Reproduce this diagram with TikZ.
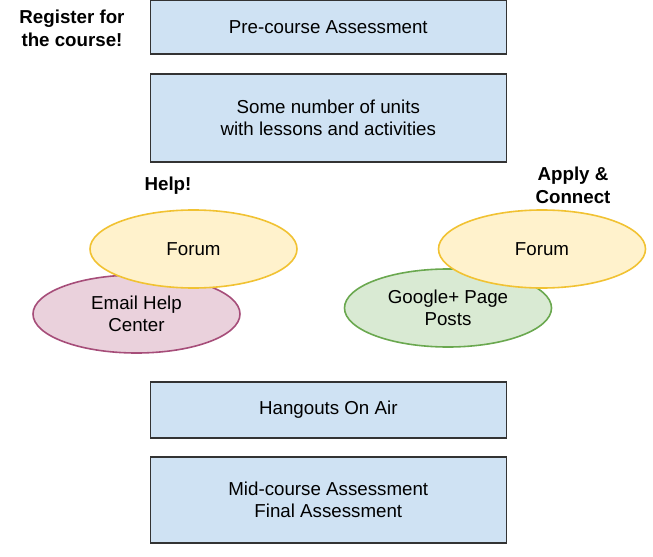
\documentclass[tikz,border=0pt]{standalone}
\usepackage{fontspec}
\setmainfont{Liberation Sans}
\usetikzlibrary{shapes.geometric}
\definecolor{boxfill}{HTML}{CFE2F3}
\definecolor{boxline}{HTML}{333333}
\definecolor{forumfill}{HTML}{FFF2CC}
\definecolor{forumline}{HTML}{F1C232}
\definecolor{mailfill}{HTML}{EAD1DC}
\definecolor{mailline}{HTML}{A64D79}
\definecolor{gfill}{HTML}{D9EAD3}
\definecolor{gline}{HTML}{6AA84F}
\begin{document}
\begin{tikzpicture}[x=1bp,y=-1bp,
  stepbox/.style={draw=boxline,fill=boxfill,line width=1.6bp,minimum width=356bp,inner sep=0pt,align=center,font=\fontsize{18.8}{21.5}\selectfont},
  oval/.style={ellipse,line width=1.6bp,minimum width=207bp,minimum height=78bp,inner sep=0pt,align=center,font=\fontsize{18.8}{21.5}\selectfont},
  forum/.style={oval,draw=forumline,fill=forumfill},
  mail/.style={oval,draw=mailline,fill=mailfill},
  gplus/.style={oval,draw=gline,fill=gfill},
  label/.style={align=center,font=\bfseries\fontsize{18.8}{23}\selectfont}]
\useasboundingbox (0,0) rectangle (653,557);
\node[stepbox,minimum height=54bp] (pre) at (328.3,27) {Pre-course Assessment};
\node[stepbox,minimum height=88bp] (units) at (328.3,118) {Some number of units\\with lessons and activities};
\node[stepbox,minimum height=56bp] (hang) at (328.3,410) {Hangouts On Air};
\node[stepbox,minimum height=86bp] (mid) at (328.3,500) {Mid-course Assessment\\Final Assessment};
\node[label] (reg) at (72,28) {Register for\\the course!};
\node[label] (help) at (168,186) {Help!};
\node[label] (apply) at (573,185) {Apply \&\\Connect};
\node[mail] (email) at (136.5,314) {Email Help\\Center};
\node[forum] (forumL) at (193.5,249) {Forum};
\node[gplus] (gp) at (448,308) {Google+ Page\\Posts};
\node[forum] (forumR) at (542,249) {Forum};
\end{tikzpicture}
\end{document}
